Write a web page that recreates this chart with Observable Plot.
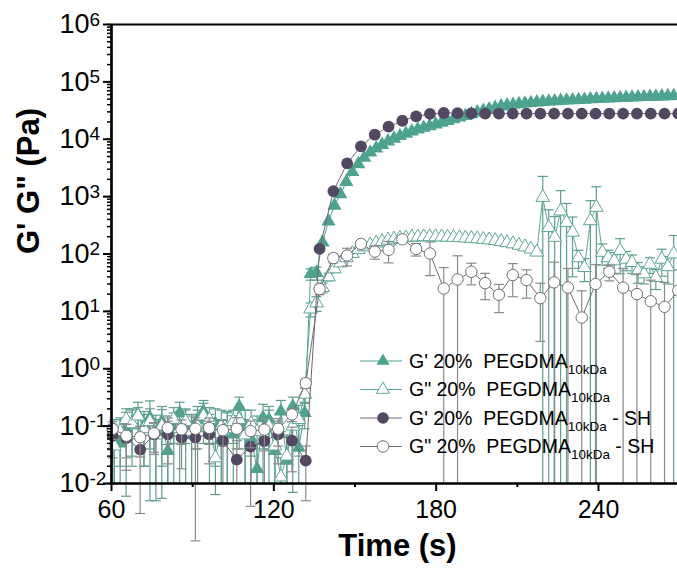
<!DOCTYPE html>
<html><head><meta charset="utf-8">
<script src="https://cdn.jsdelivr.net/npm/d3@7"></script>
<script src="https://cdn.jsdelivr.net/npm/@observablehq/plot@0.6"></script>
<style>
body{margin:0;background:#fff;}
#wrap{position:relative;width:677px;height:571px;overflow:hidden;font-family:"Liberation Sans",Arial,sans-serif;}
#wrap svg{display:block;}
#legend{position:absolute;left:0;top:0;pointer-events:none;}
</style></head><body><div id="wrap"></div>
<script>
// ---- data ----
const tTri = [61.0,63.2,65.4,67.6,69.8,72.0,74.2,76.4,78.6,80.8,83.0,85.2,87.4,89.6,91.8,94.0,96.2,98.4,100.6,102.8,105.0,107.2,109.4,111.6,113.8,116.0,118.2,120.4,122.6,124.8,127.0,129.2,131.4,133.6,135.8,138.0,140.2,142.4,144.6,146.8,149.0,151.2,153.4,155.6,157.8,160.0,162.2,164.4,166.6,168.8,171.0,173.2,175.4,177.6,179.8,182.0,184.2,186.4,188.6,190.8,193.0,195.2,197.4,199.6,201.8,204.0,206.2,208.4,210.6,212.8,215.0,217.2,219.4,221.6,223.8,226.0,228.2,230.4,232.6,234.8,237.0,239.2,241.4,243.6,245.8,248.0,250.2,252.4,254.6,256.8,259.0,261.2,263.4,265.6,267.8];
const gpTri = [0.07,0.05,0.09,0.11,0.16,0.10,0.14,0.08,0.12,0.037,0.09,0.17,0.10,0.07,0.13,0.18,0.08,0.11,0.06,0.09,0.072,0.22,0.10,0.06,0.018,0.14,0.13,0.037,0.18,0.025,0.22,0.042,0.17,
  45,47,160,370,700,1100,1800,2700,3700,4800,5900,6900,8000,9200,10300,11400,12500,13700,14800,15900,17000,18200,19500,21000,22500,24000,25500,27500,29500,31500,33500,35500,37500,39000,40000,41000,42000,43000,44000,45000,45500,46000,47000,47500,48000,48500,49000,50000,50500,51000,51500,52000,52500,53000,53500,54000,54500,55000,55500,56000,56500,57000];
const gpTriErr = [0.06,0.08,0.084,0.09,0.10,0.08,0.135,0.075,0.10,0.05,0.08,0.09,0.10,0.08,0.09,0.10,0.08,0.09,0.07,0.09,0.08,0.10,0.09,0.07,0.03,0.10,0.09,0.06,0.10,0.04,0.10,0.06,0.08,10,12];
const gppTri = [0.045,0.08,0.13,0.11,0.15,0.09,0.12,0.07,0.10,0.08,0.13,0.09,0.12,0.08,0.10,0.15,0.13,0.028,0.10,0.09,0.12,0.13,0.07,0.11,0.08,0.06,0.10,0.045,0.013,0.03,0.10,0.13,0.36,
  11,14,26,40,55,70,86,102,120,133,144,155,165,175,182,188,192,196,198,200,200,199,198,196,195,193,190,187,184,180,176,171,165,158,150,142,133,122,108,
  970,290,195,560,355,240,86,58,380,650,107,86,76,115,81,71,51,45,66,39,81,60,100];
const gppTriErr = [0.05,0.06,0.07,0.08,0.06,0.07,0.08,0.06,0.0945,0.07,0.08,0.09,0.07,0.08,0.09,0.10,0.08,0.0216,0.09,0.08,0.07,0.09,0.06,0.08,0.07,0.06,0.09,0.05,0.015,0.04,0.093,0.10,0.1,
  3,4,5,6,7,8,8,9,10,10,11,12,12,13,14,15,15,16,16,17,17,16,16,15,15,14,14,13,13,12,12,11,11,10,10,9,9,8,8,
  1280,300,255,710,405,200,30,25,470,840,43,30,30,70,30,25,20,15,20,15,40,30,110];
const tCirc = [60.4,65.5,70.6,75.7,80.8,85.9,91.0,96.1,101.2,106.3,111.4,116.5,121.6,126.7,131.8,136.9,142.0,147.1,152.2,157.3,162.4,167.5,172.6,177.7,182.8,187.9,193.0,198.1,203.2,208.3,213.4,218.5,223.6,228.7,233.8,238.9,244.0,249.1,254.2,259.3,264.4,269.5];
const gpCirc = [0.068,0.062,0.039,0.072,0.072,0.063,0.063,0.072,0.055,0.026,0.044,0.055,0.072,0.056,0.025,
  123,1250,3800,7500,12000,16600,21000,25000,27600,28700,28500,28200,28000,28000,28000,28000,28000,28000,28000,28000,28000,28000,28000,28000,28000,28000,28000];
const gpCircErr = [0.04,0.045,0.036,0.04,0.05,0.045,0.062,0.05,0.045,0.03,0.04,0.045,0.05,0.04,0.02,10,80,200,400,700,900,1100,1300,1200,1000];
const gppCirc = [0.089,0.068,0.064,0.075,0.093,0.088,0.09,0.093,0.085,0.09,0.082,0.087,0.09,0.16,0.56,
  24.5,85,94,150,110,118,180,122,102,25,36,49,31,19.5,43,35,17,32,26,7.8,30,49,26,20,15,12,23];
const gppCircErr = [0.03,0.04,0.035,0.04,0.045,0.04,0.05,0.045,0.04,0.05,0.04,0.05,0.045,0.04,0.1,
  5,15,32,20,29,48,15,30,60,33,57,20,15,10,25,18,14,40,30,15,35,15,30,25,20,20,30];

const xTicks = [60,120,180,240];
const xMinor = [90,150,210];
const yTicks = [1e-2,1e-1,1e0,1e1,1e2,1e3,1e4,1e5,1e6];
const yExp = ["-2","-1","0","1","2","3","4","5","6"];
const yLabel = "G' G\" (Pa)";
const xLabel = "Time (s)";
const legendLabels = ["G' 20%  PEGDMA","G\" 20%  PEGDMA","G' 20%  PEGDMA","G\" 20%  PEGDMA"];
const legendSub = "10kDa";
const legendSuffix = ["","", " - SH"," - SH"];

// ---- colours ----
const C = {
  gpTri: "#4ea38f", gppTri: "#5fa797", triErr: "#5f9e8f",
  gpCirc: "#524862", gppCirc: "#6f6f78", circErr: "#8a8a8e", circLine: "#6a6670"
};

const rows = (t, v, e) => t.map((x, i) => ({t: x, v: v[i], e: e[i] ?? 0}));
const sGpTri = rows(tTri, gpTri, gpTriErr);
const sGppTri = rows(tTri, gppTri, gppTriErr);
const sGpCirc = rows(tCirc, gpCirc, gpCircErr);
const sGppCirc = rows(tCirc, gppCirc, gppCircErr);

const YMIN = 0.01;
const lo = d => (d.v - d.e > 0 ? d.v - d.e : YMIN);
const hi = d => d.v + d.e;
const cap = {draw(ctx){ ctx.moveTo(-5, 0); ctx.lineTo(5, 0); }};

function seriesMarks(data, o) {
  const we = data.filter(d => d.e > 0);
  return [
    Plot.line(data, {x: "t", y: "v", stroke: o.line, strokeWidth: 1}),
    Plot.ruleX(we, {x: "t", y1: lo, y2: hi, stroke: o.err, strokeWidth: 1.2}),
    Plot.dot(we, {x: "t", y: hi, symbol: cap, stroke: o.err, fill: "none", strokeWidth: 1.2}),
    Plot.dot(we.filter(d => d.v - d.e > 0), {x: "t", y: d => d.v - d.e, symbol: cap, stroke: o.err, fill: "none", strokeWidth: 1.2}),
    Plot.dot(data, {x: "t", y: "v", symbol: o.symbol, r: o.r, fill: o.fill, stroke: o.stroke, strokeWidth: 1})
  ];
}

const chart = Plot.plot({
  width: 677, height: 571,
  marginLeft: 111, marginRight: 0, marginTop: 24, marginBottom: 88,
  x: {domain: [60, 269.2]},
  y: {type: "log", domain: [YMIN, 1e6]},
  style: {fontFamily: "'Liberation Sans', Arial, sans-serif", fontSize: "25px", color: "#000", background: "#fff", overflow: "visible"},
  marks: [
    ...seriesMarks(sGpTri, {line: C.gpTri, err: C.triErr, symbol: "triangle", r: 5.3, fill: C.gpTri, stroke: "none"}),
    ...seriesMarks(sGppTri, {line: C.gppTri, err: C.triErr, symbol: "triangle", r: 5.1, fill: "#fff", stroke: C.gppTri}),
    ...seriesMarks(sGpCirc, {line: C.circLine, err: C.circErr, symbol: "circle", r: 5.9, fill: C.gpCirc, stroke: "none"}),
    ...seriesMarks(sGppCirc, {line: C.gppCirc, err: C.circErr, symbol: "circle", r: 5.7, fill: "#fff", stroke: C.gppCirc}),
    // axes
    Plot.axisY({ticks: 100, tickSize: 4, tickFormat: () => "", strokeWidth: 1.5, label: null}),
    Plot.axisY({ticks: yTicks, tickSize: 8, tickFormat: () => "", strokeWidth: 2, label: null}),
    Plot.text(yTicks, {y: d => d, text: () => "10", frameAnchor: "left", dx: -22, textAnchor: "end", lineAnchor: "middle", fontSize: 27}),
    Plot.text(yTicks, {y: d => d, text: (d, i) => yExp[i], frameAnchor: "left", dx: -22, dy: -5, textAnchor: "start", lineAnchor: "middle", fontSize: 19}),
    Plot.axisX({ticks: xMinor, tickSize: 4, tickFormat: () => "", strokeWidth: 2, label: null}),
    Plot.axisX({ticks: xTicks, tickSize: 8, tickPadding: 9, tickFormat: d => String(d), strokeWidth: 2, fontSize: 25, label: null}),
    Plot.ruleX([60], {strokeWidth: 2.7, stroke: "#000"}),
    Plot.ruleY([YMIN], {strokeWidth: 2.7, stroke: "#000"}),
    Plot.ruleY([1e6], {strokeWidth: 2, stroke: "#000"}),
    Plot.text([yLabel], {text: d => d, frameAnchor: "left", dx: -82, rotate: -90, fontSize: 31, fontWeight: "bold"}),
    Plot.text([xLabel], {text: d => d, frameAnchor: "bottom", dx: 3, dy: 72, fontSize: 31, fontWeight: "bold"})
  ]
});
const wrap = document.getElementById("wrap");
wrap.appendChild(chart);

// ---- legend overlay ----
const lg = d3.select(wrap).append("svg").attr("id", "legend").attr("width", 677).attr("height", 571)
  .style("font-family", "'Liberation Sans', Arial, sans-serif");
const rowY = [361, 389.5, 418, 446.5];
const symKinds = [
  {kind: "tri", fill: C.gpTri, stroke: "none", line: C.gpTri},
  {kind: "tri", fill: "#fff", stroke: C.gppTri, line: C.gppTri},
  {kind: "circ", fill: C.gpCirc, stroke: "none", line: C.circLine},
  {kind: "circ", fill: "#fff", stroke: C.gppCirc, line: C.gppCirc}
];
legendLabels.forEach((lab, i) => {
  const y = rowY[i], s = symKinds[i], cx = 383;
  lg.append("line").attr("x1", 360).attr("x2", 402).attr("y1", y).attr("y2", y).attr("stroke", s.line).attr("stroke-width", 1);
  if (s.kind === "tri") {
    lg.append("path").attr("d", `M${cx},${y-7.5}L${cx+6.5},${y+3.8}L${cx-6.5},${y+3.8}Z`)
      .attr("fill", s.fill).attr("stroke", s.stroke).attr("stroke-width", 1);
  } else {
    lg.append("circle").attr("cx", cx).attr("cy", y).attr("r", 5.8).attr("fill", s.fill).attr("stroke", s.stroke).attr("stroke-width", 1);
  }
  const t = lg.append("text").attr("x", 409).attr("y", y + 6.5).attr("font-size", 19.5).attr("fill", "#000").style("white-space", "pre");
  t.append("tspan").text(lab);
  t.append("tspan").attr("font-size", 13.5).attr("dy", 6).text(legendSub);
  if (legendSuffix[i]) t.append("tspan").attr("dy", -6).text(legendSuffix[i]);
});
</script>
</body></html>
